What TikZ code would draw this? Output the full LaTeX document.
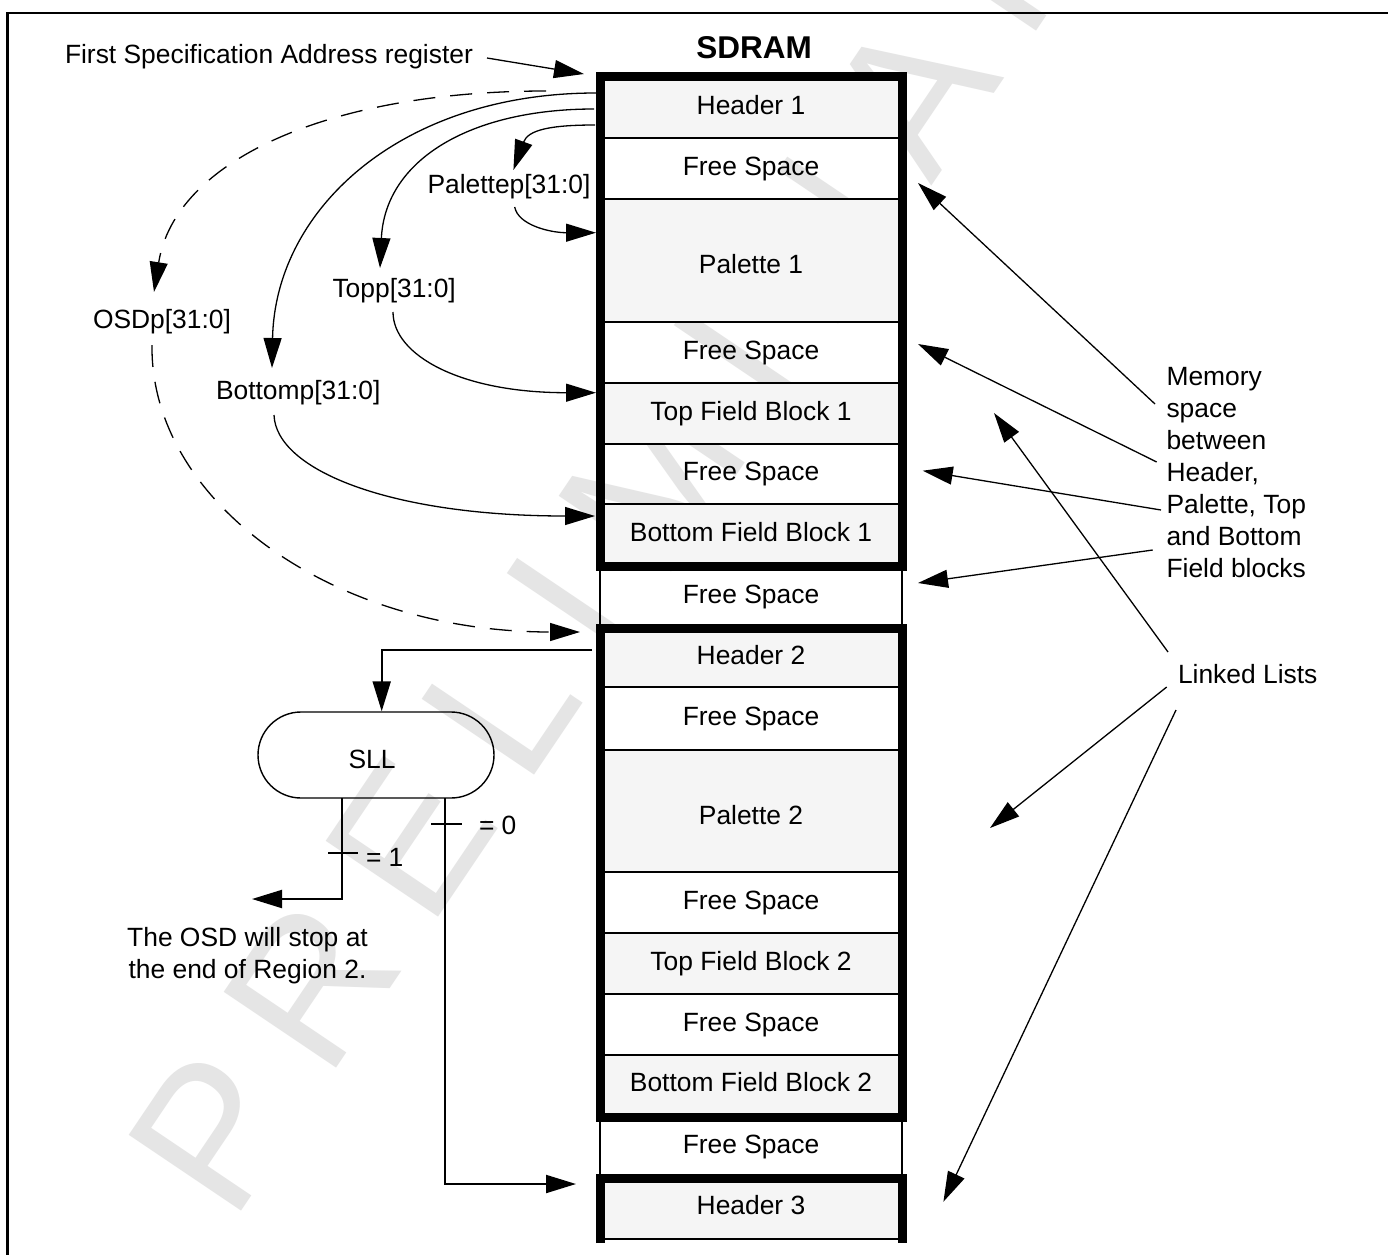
\documentclass[tikz,border=0pt]{standalone}
\usepackage{fontspec}
\setmainfont{Liberation Sans}
\newfontfamily\wmfont[LetterSpace=20.4]{Liberation Sans}
\usetikzlibrary{arrows.meta}
\newcommand\lblfont{\fontsize{26.4}{32}\selectfont}
\definecolor{wmgray}{HTML}{E5E5E5}
\definecolor{rowgray}{HTML}{F5F5F5}
\tikzset{
  lbl/.style={inner sep=0pt,outer sep=0pt,font=\lblfont,anchor=base west},
  celltext/.style={inner sep=0pt,outer sep=0pt,font=\lblfont,anchor=base},
  solidhead/.style={-{Triangle[length=30pt,width=18pt]}},
  thinarrow/.style={line width=1.3pt,solidhead},
  dasharrow/.style={line width=1.3pt,solidhead,dash pattern=on 22pt off 15pt},
  ortho/.style={line width=2pt,solidhead},
  orthoplain/.style={line width=2pt},
  heavybox/.style={line width=9pt,miter limit=10},
  rowrule/.style={line width=2pt},
}
\begin{document}
\begin{tikzpicture}[x=1pt,y=-1pt]
\useasboundingbox (0,0) rectangle (1388,1255);
\clip (0,0) rectangle (1388,1255);
\fill[white] (0,0) rectangle (1388,1255);
% watermark
\node[inner sep=0pt,outer sep=0pt,anchor=base west,rotate=56,text=wmgray,font=\wmfont\fontsize{197}{197}\selectfont] (watermark) at (232,1224) {PRELIMINAR};
% frame
\draw[line width=2.2pt] (1388,13) -- (7.5,13) -- (7.5,1255);
% shaded rows
\foreach \a/\b in {76/137.7,198.7/321.7,382.7/443.5,503.8/566,628/687.3,750/871.7,933/994,1055/1117.5,1178/1239}
  \fill[rowgray] (600,\a) rectangle (902.5,\b);
% row rules
\foreach \r in {137.7,198.7,321.7,382.7,443.5,503.8,687.3,750,871.7,933,994,1055,1239}
  \draw[rowrule] (600,\r) -- (902.5,\r);
% thin sides of free gaps
\draw[rowrule] (600,566) -- (600,628) (902,566) -- (902,628) (600,1117.5) -- (600,1178) (902,1117.5) -- (902,1178);
% heavy boxes
\draw[heavybox] (600,76) rectangle (902.5,566);
\draw[heavybox] (600,628) rectangle (902.5,1117.5);
\draw[heavybox] (600,1243) -- (600,1178) -- (902.5,1178) -- (902.5,1243);
% cell texts
\node[celltext,font=\fontsize{31.5}{36}\bfseries\selectfont] (sdram) at (754,58.3) {SDRAM};
\node[celltext] (h1) at (751,114) {Header 1};
\node[celltext] (f1) at (751,175) {Free Space};
\node[celltext] (p1) at (751,273) {Palette 1};
\node[celltext] (f2) at (751,359) {Free Space};
\node[celltext] (t1) at (751,420) {Top Field Block 1};
\node[celltext] (f3) at (751,480.5) {Free Space};
\node[celltext] (b1) at (751,541.5) {Bottom Field Block 1};
\node[celltext] (f4) at (751,603.3) {Free Space};
\node[celltext] (h2) at (751,664.3) {Header 2};
\node[celltext] (f5) at (751,725) {Free Space};
\node[celltext] (p2) at (751,824.3) {Palette 2};
\node[celltext] (f6) at (751,909.3) {Free Space};
\node[celltext] (t2) at (751,970.3) {Top Field Block 2};
\node[celltext] (f7) at (751,1031.3) {Free Space};
\node[celltext] (b2) at (751,1091.5) {Bottom Field Block 2};
\node[celltext] (f8) at (751,1153) {Free Space};
\node[celltext] (h3) at (751,1214) {Header 3};
% left labels
\node[lbl] (fsar) at (65,63.5) {First Specification Address register};
\node[lbl] (palp) at (427.5,193) {Palettep[31:0]};
\node[lbl] (topp) at (332.5,297) {Topp[31:0]};
\node[lbl] (osdp) at (93,328.5) {OSDp[31:0]};
\node[lbl] (botp) at (216,399) {Bottomp[31:0]};
\node[draw,line width=1.4pt,minimum width=236pt,minimum height=86pt,rounded corners=43pt,inner sep=0pt] (sll) at (376,755) {};
\node[celltext] (slltext) at (372,768) {SLL};
\node[lbl] (eq1) at (366,866) {= 1};
\node[lbl] (eq0) at (479,834) {= 0};
\node[lbl,anchor=north,align=center] (stop) at (247.5,927) {The OSD will stop at\\the end of Region 2.};
\node[lbl,anchor=north west,align=left] (mem) at (1166.5,367) {Memory\\space\\between\\Header,\\Palette, Top\\and Bottom\\Field blocks};
\node[lbl] (ll) at (1178,683.5) {Linked Lists};
% connector ends
\coordinate (a0) at (487,58);      \coordinate (a1) at (584,74);
\coordinate (d0) at (546,91);      \coordinate (d1) at (154,292);
\coordinate (b0) at (596,93);      \coordinate (b1x) at (272,368);
\coordinate (t0) at (594,109);     \coordinate (t1x) at (380,268);
\coordinate (p0) at (595,125);     \coordinate (p1x) at (513.4,170);
\coordinate (q0) at (514.7,207);   \coordinate (q1) at (596,232.7);
\coordinate (r0) at (393,312);     \coordinate (r1) at (596,392.7);
\coordinate (s0) at (274,415);     \coordinate (s1) at (595,516);
\coordinate (e0) at (152,345);     \coordinate (e1) at (580,632);
\coordinate (g0) at (592,650);     \coordinate (g1) at (381.7,650);
\coordinate (l0) at (342,798);     \coordinate (l1) at (342,899);     \coordinate (l2) at (252,899);
\coordinate (m0) at (445,798);     \coordinate (m1) at (445,1184);    \coordinate (m2) at (576,1184);
\coordinate (n0) at (328,853);     \coordinate (n1) at (358,853);
\coordinate (o0) at (431,824);     \coordinate (o1) at (462,824);
\coordinate (u0) at (1155,404);    \coordinate (u1) at (918,183);
\coordinate (v0) at (1156.7,462);  \coordinate (v1) at (918,344);
\coordinate (w0) at (1161,510);    \coordinate (w1) at (922.7,470.7);
\coordinate (y0) at (1152.7,550);  \coordinate (y1) at (918,583);
\coordinate (z0) at (1168,652);    \coordinate (z1) at (994,413);
\coordinate (z2) at (1166.7,687);  \coordinate (z3) at (990,828);
\coordinate (z4) at (1176,710);    \coordinate (z5) at (943.4,1201.7);
% connectors
\draw[thinarrow] (a0) -- (a1);
\draw[dasharrow] (d0) .. controls (330,91) and (175,160) .. (d1);
\draw[thinarrow] (b0) .. controls (400,93) and (275,210) .. (b1x);
\draw[thinarrow] (t0) .. controls (470,109) and (385,160) .. (t1x);
\draw[thinarrow] (p0) .. controls (550,125) and (528,130) .. (p1x);
\draw[thinarrow] (q0) .. controls (518,225) and (550,232.7) .. (q1);
\draw[thinarrow] (r0) .. controls (393,355) and (460,392.7) .. (r1);
\draw[thinarrow] (s0) .. controls (276,470) and (390,516) .. (s1);
\draw[dasharrow] (e0) .. controls (150,500) and (330,632) .. (e1);
\draw[ortho] (g0) -- (g1) -- (sll.north -| g1);
\draw[ortho] (l0) -- (l1) -- (l2);
\draw[ortho] (m0) -- (m1) -- (m2);
\draw[orthoplain] (n0) -- (n1);
\draw[orthoplain] (o0) -- (o1);
\draw[thinarrow] (u0) -- (u1);
\draw[thinarrow] (v0) -- (v1);
\draw[thinarrow] (w0) -- (w1);
\draw[thinarrow] (y0) -- (y1);
\draw[thinarrow] (z0) -- (z1);
\draw[thinarrow] (z2) -- (z3);
\draw[thinarrow] (z4) -- (z5);
\end{tikzpicture}
\end{document}
